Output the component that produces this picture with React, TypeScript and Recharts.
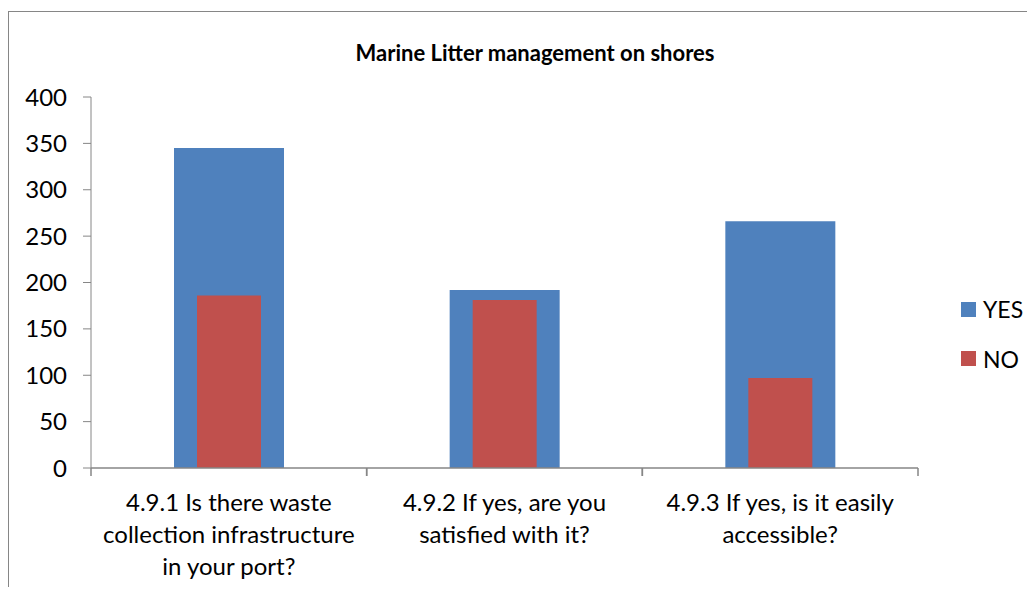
import React from 'react';
import { BarChart, Bar, XAxis, YAxis, Legend } from 'recharts';

const categories = [
  '4.9.1 Is there waste collection infrastructure in your port?',
  '4.9.2 If yes, are you satisfied with it?',
  '4.9.3 If yes, is it easily accessible?',
];
const categoryLines = [
  ['4.9.1 Is there waste', 'collection infrastructure', 'in your port?'],
  ['4.9.2 If yes, are you', 'satisfied with it?'],
  ['4.9.3 If yes, is it easily', 'accessible?'],
];
const yesValues = [345, 192, 266];
const noValues = [186, 181, 97];
const yTicks = [0, 50, 100, 150, 200, 250, 300, 350, 400];
const seriesNames = ['YES', 'NO'];
const title = 'Marine Litter management on shores';

const BLUE = '#4F81BD';
const RED = '#C0504D';
const AXIS = '#868686';
const FONT = 'Lato, "Open Sans", sans-serif';

const data = categories.map((c, i) => ({ category: c, yes: yesValues[i], no: noValues[i] }));

const XTick = (props: any) => {
  const { x, y, payload, index } = props;
  const off = payload && payload.offset ? payload.offset : 0;
  const lines = categoryLines[index] || [String(payload.value)];
  return (
    <g>
      <line x1={x - off} x2={x - off} y1={y} y2={y + 8} stroke={AXIS} strokeWidth={1.5} />
      <line x1={x + off} x2={x + off} y1={y} y2={y + 8} stroke={AXIS} strokeWidth={1.5} />
      <text x={x} y={y + 43} textAnchor="middle" fill="#000" fontSize={24} fontFamily={FONT}>
        {lines.map((l, i) => (
          <tspan key={i} x={x} dy={i === 0 ? 0 : 32}>
            {l}
          </tspan>
        ))}
      </text>
    </g>
  );
};

const LegendContent = () => {
  const colors = [BLUE, RED];
  return (
    <div style={{ fontFamily: FONT, fontSize: 23, color: '#000' }}>
      {seriesNames.map((n, i) => (
        <div key={n} style={{ display: 'flex', alignItems: 'center', height: 26, marginBottom: i === 0 ? 23.5 : 0 }}>
          <div style={{ width: 15, height: 15, background: colors[i], marginRight: 7 }} />
          <span style={{ lineHeight: '26px' }}>{n}</span>
        </div>
      ))}
    </div>
  );
};

export default function App() {
  return (
    <div style={{ position: 'relative', width: 1027, height: 579 }}>
      <div
        style={{
          position: 'absolute',
          left: 0,
          top: 3,
          width: 1027,
          height: 584,
          borderLeft: `1px solid ${AXIS}`,
          borderTop: `1px solid ${AXIS}`,
          boxSizing: 'border-box',
        }}
      />
      <div
        style={{
          position: 'absolute',
          left: 0,
          width: 1054,
          top: 31,
          textAlign: 'center',
          fontFamily: FONT,
          fontWeight: 700,
          fontSize: 22,
          color: '#000',
        }}
      >
        {title}
      </div>
      <div style={{ position: 'absolute', left: 0, top: 0 }}>
        <BarChart
          width={1019}
          height={579}
          data={data}
          margin={{ top: 89, right: 109, bottom: 0, left: 0 }}
        >
          <XAxis
            xAxisId="yes"
            dataKey="category"
            height={119}
            tickLine={false}
            tickSize={0}
            tickMargin={0}
            interval={0}
            axisLine={{ stroke: AXIS, strokeWidth: 1.5 }}
            tick={<XTick />}
          />
          <XAxis xAxisId="no" dataKey="category" hide height={0} />
          <YAxis
            domain={[0, 400]}
            ticks={yTicks}
            width={83}
            tickSize={8}
            tickMargin={16}
            interval={0}
            axisLine={{ stroke: AXIS, strokeWidth: 1 }}
            tickLine={{ stroke: AXIS }}
            tick={{ fill: '#000', fontSize: 24, fontFamily: FONT }}
          />
          <Legend
            layout="vertical"
            align="center"
            verticalAlign="middle"
            content={<LegendContent />}
            wrapperStyle={{ position: 'absolute', left: 953, top: 288, width: 80 }}
          />
          <Bar xAxisId="yes" dataKey="yes" name="YES" fill={BLUE} barSize={110} isAnimationActive={false} />
          <Bar xAxisId="no" dataKey="no" name="NO" fill={RED} barSize={64} isAnimationActive={false} />
        </BarChart>
      </div>
    </div>
  );
}
